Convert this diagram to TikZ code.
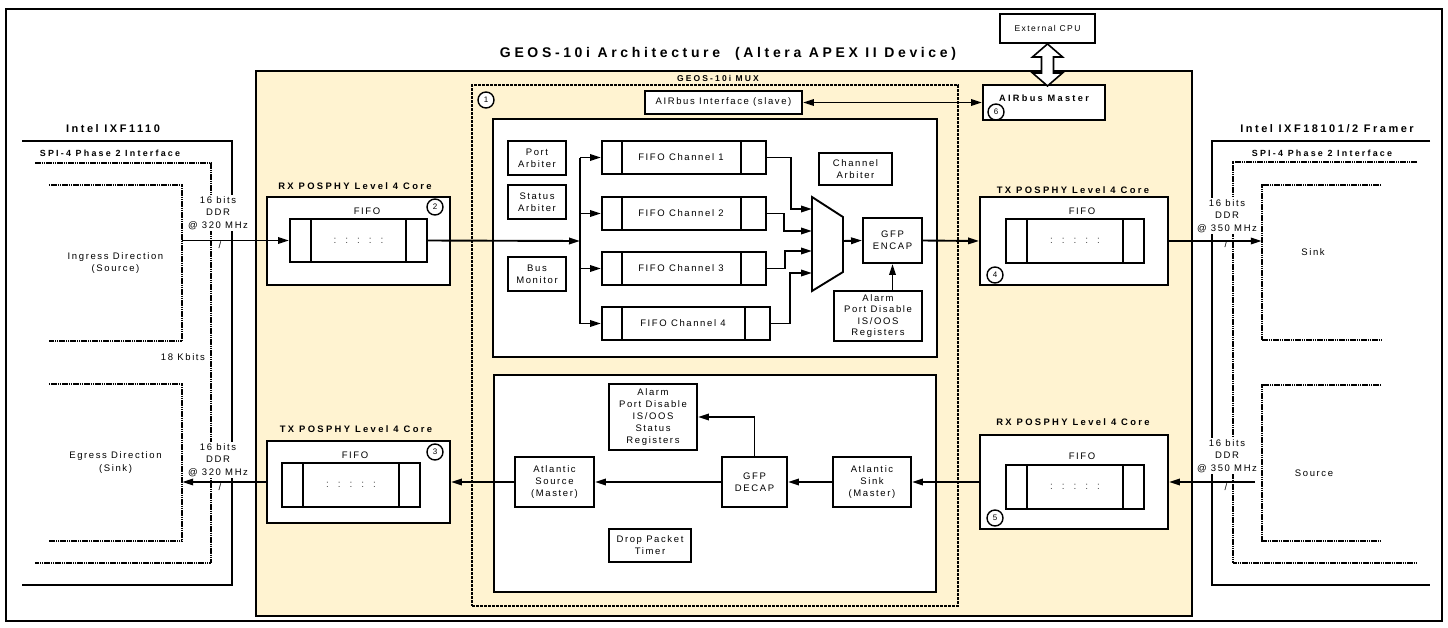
\documentclass[tikz,border=0pt]{standalone}
\usepackage{fontspec}
\setmainfont{Liberation Sans}[LetterSpace=17]
\newfontfamily\hdf{Liberation Sans}[LetterSpace=25]
\newfontfamily\bgf{Liberation Sans}[LetterSpace=23]
\newfontfamily\ttlf{Liberation Sans}[LetterSpace=26]
\usetikzlibrary{arrows.meta,calc}
\definecolor{apex}{HTML}{FFF3D1}
\begin{document}
\begin{tikzpicture}[x=1pt,y=-1pt,
  box/.style={draw, line width=1.9pt, fill=white, inner sep=0pt, align=center, font=\fontsize{9.5}{12}\selectfont},
  fifo/.style={draw, line width=1.9pt, fill=white, inner sep=0pt},
  hd/.style={font=\hdf\bfseries\fontsize{9.4}{11}\selectfont, inner sep=1pt},
  hdsm/.style={font=\hdf\bfseries\fontsize{8.9}{10}\selectfont, inner sep=1pt},
  big/.style={font=\bgf\bfseries\fontsize{11}{13}\selectfont, inner sep=1pt},
  txt/.style={font=\fontsize{9.5}{12.5}\selectfont, align=center, inner sep=1pt},
  lbl/.style={txt, fill=white, inner sep=1.5pt},
  circ/.style={circle, draw, line width=1.4pt, fill=white, inner sep=0pt, minimum size=16pt, font=\fontsize{8}{8}\selectfont},
  arr/.style={line width=1.9pt, -{Triangle[length=11pt,width=6.5pt]}},
  darr/.style={line width=1.9pt, {Triangle[length=11pt,width=6.5pt]}-{Triangle[length=11pt,width=6.5pt]}},
  con/.style={line width=1.9pt},
  solidframe/.style={line width=2pt},
  dotframe/.style={line width=2pt, dash pattern=on 1.6pt off 0.6pt},
  muxline/.style={line width=1.2pt, dash pattern=on 3pt off 1pt},
  fdots/.style={font=\fontsize{10}{10}\selectfont, text=black!70, inner sep=0pt},
  open/.style={minimum width=#1, inner sep=0pt, align=center, font=\fontsize{9.5}{12.5}\selectfont},
]
\useasboundingbox (0,0) rectangle (1448,627);
\fill[white] (0,0) rectangle (1448,627);
% outer frame
\draw[solidframe] (6,9) rectangle (1442,621);

% title
\node[font=\ttlf\bfseries\fontsize{14}{15}\selectfont, inner sep=0pt] (title) at (728,54) {GEOS-10i Architecture\ \ (Altera APEX II Device)};

% ---------- left device frames ----------
\draw[solidframe] (22,141) -- (232,141) -- (232,585) -- (22,585);
\draw[dotframe] (35,163) -- (211,163) -- (211,563) -- (35,563);
\node[open=133pt, minimum height=156pt] (ingress) at (115.5,263) {Ingress Direction\\(Source)};
\draw[dotframe] (ingress.north west) -- (ingress.north east) -- (ingress.south east) -- (ingress.south west);
\node[open=133pt, minimum height=157pt] (egress) at (115.5,462.5) {Egress Direction\\(Sink)};
\draw[dotframe] (egress.north west) -- (egress.north east) -- (egress.south east) -- (egress.south west);
\node[big] (intelL) at (113,129) {Intel IXF1110};
\node[hdsm] (spiL) at (110,153) {SPI-4 Phase 2 Interface};
\node[txt] (kbits) at (183,357) {18 Kbits};

% ---------- right device frames ----------
\draw[solidframe] (1430,141) -- (1212,141) -- (1212,585) -- (1430,585);
\draw[dotframe] (1417,162) -- (1233,162) -- (1233,563) -- (1417,563);
\node[open=119pt, minimum height=155pt] (sink) at (1321.5,262.5) {};
\draw[dotframe] (sink.north east) -- (sink.north west) -- (sink.south west) -- (sink.south east);
\node[txt] (sinkt) at (1313,252) {Sink};
\node[open=119pt, minimum height=156pt] (source) at (1321.5,463) {};
\draw[dotframe] (source.north east) -- (source.north west) -- (source.south west) -- (source.south east);
\node[txt] (sourcet) at (1314,473) {Source};
\node[big] (intelR) at (1327,129) {Intel IXF18101/2 Framer};
\node[hdsm] (spiR) at (1322,153) {SPI-4 Phase 2 Interface};

% ---------- APEX device ----------
\node[draw, fill=apex, line width=2pt, minimum width=936pt, minimum height=545pt, inner sep=0pt] (apex) at (724,343.5) {};
\node[draw, muxline, minimum width=486pt, minimum height=521pt, inner sep=0pt] (mux) at (715,345.5) {};
\node[font=\hdf\bfseries\fontsize{8.5}{9}\selectfont, inner sep=0pt] (muxt) at (718,78) {GEOS-10i MUX};
\node[draw, line width=1.9pt, fill=white, minimum width=444pt, minimum height=238pt, inner sep=0pt] (upper) at (715,238) {};
\node[draw, line width=1.9pt, fill=white, minimum width=442pt, minimum height=217pt, inner sep=0pt] (lower) at (715,483.5) {};

% external CPU / AIRbus
\node[box, minimum width=95pt, minimum height=29pt, font=\fontsize{8.5}{9}\selectfont] (extcpu) at (1047.5,28.5) {External CPU};
\node[box, minimum width=122pt, minimum height=35pt, font=\hdf\bfseries\fontsize{9.2}{11}\selectfont, text depth=9pt] (airmaster) at (1044,102.5) {AIRbus Master};
\node[box, minimum width=157pt, minimum height=23pt] (airslave) at (723.5,102.5) {AIRbus Interface (slave)};

% upper section
\node[box, minimum width=58pt, minimum height=34pt] (portarb) at (537,158) {Port\\Arbiter};
\node[box, minimum width=58pt, minimum height=34pt] (statarb) at (537,202) {Status\\Arbiter};
\node[box, minimum width=58pt, minimum height=34pt] (busmon) at (537,274) {Bus\\Monitor};
\node[fifo, minimum width=164pt, minimum height=33pt] (fifo1) at (684,157.5) {};
\node[fifo, minimum width=164pt, minimum height=33pt] (fifo2) at (684,213.5) {};
\node[fifo, minimum width=164pt, minimum height=33pt] (fifo3) at (684,268.5) {};
\node[fifo, minimum width=168pt, minimum height=33pt] (fifo4) at (686,323.5) {};
\foreach \f/\n in {fifo1/1,fifo2/2,fifo3/3,fifo4/4}{
  \draw[con] ([xshift=21pt]\f.north west) -- ([xshift=21pt]\f.south west);
  \draw[con] ([xshift=-26pt]\f.north east) -- ([xshift=-26pt]\f.south east);
  \node[txt] at ([xshift=-3pt]\f.center) {FIFO Channel \n};
}
\node[box, minimum width=73pt, minimum height=32pt] (chanarb) at (855.5,169) {Channel\\Arbiter};
\node[box, minimum width=59pt, minimum height=45pt] (encap) at (892.5,240.5) {GFP\\ENCAP};
\node[box, minimum width=88pt, minimum height=50pt, font=\fontsize{9.5}{11.6}\selectfont] (alarm1) at (878,316) {Alarm\\Port Disable\\IS/OOS\\Registers};
% multiplexer
\draw[con, fill=white] (812,197) -- (843,217) -- (843,272) -- (812,291) -- cycle;
\coordinate (mx1) at (812,209);
\coordinate (mx2) at (812,231);
\coordinate (mx3) at (812,251);
\coordinate (mx4) at (812,273);
\coordinate (mout) at (843,241);

% lower section
\node[box, minimum width=88pt, minimum height=66pt] (alarm2) at (653,417) {Alarm\\Port Disable\\IS/OOS\\Status\\Registers};
\node[box, minimum width=79pt, minimum height=50pt] (atlsrc) at (554.5,482) {Atlantic\\Source\\(Master)};
\node[box, minimum width=65pt, minimum height=50pt] (decap) at (754.5,482) {GFP\\DECAP};
\node[box, minimum width=78pt, minimum height=50pt] (atlsink) at (872,482) {Atlantic\\Sink\\(Master)};
\node[box, minimum width=82pt, minimum height=33pt] (droptimer) at (650,545.5) {Drop Packet\\Timer};

% POSPHY cores
\node[box, minimum width=183pt, minimum height=88pt] (rxcoreL) at (358.5,241) {};
\node[hd] (rxcoreLt) at (355,186) {RX POSPHY Level 4 Core};
\node[fifo, minimum width=137pt, minimum height=43pt] (rxfifoL) at (358.5,240.5) {};
\node[txt] (rxfifoLt) at (367,211) {FIFO};

\node[box, minimum width=183pt, minimum height=82pt] (txcoreL) at (358.5,482) {};
\node[hd] (txcoreLt) at (356,429) {TX POSPHY Level 4 Core};
\node[fifo, minimum width=138pt, minimum height=44pt] (txfifoL) at (351,485) {};
\node[txt] (txfifoLt) at (355,455) {FIFO};

\node[box, minimum width=188pt, minimum height=88pt] (txcoreR) at (1074,241) {};
\node[hd] (txcoreRt) at (1073,190) {TX POSPHY Level 4 Core};
\node[fifo, minimum width=138pt, minimum height=44pt] (txfifoR) at (1075,241) {};
\node[txt] (txfifoRt) at (1082,211) {FIFO};

\node[box, minimum width=188pt, minimum height=94pt] (rxcoreR) at (1074,482) {};
\node[hd] (rxcoreRt) at (1073,422) {RX POSPHY Level 4 Core};
\node[fifo, minimum width=138pt, minimum height=44pt] (rxfifoR) at (1075,487) {};
\node[txt] (rxfifoRt) at (1082,456) {FIFO};

\foreach \f in {rxfifoL,txfifoL,txfifoR,rxfifoR}{
  \draw[con] ([xshift=22pt]\f.north west) -- ([xshift=22pt]\f.south west);
  \draw[con] ([xshift=-22pt]\f.north east) -- ([xshift=-22pt]\f.south east);
  \node[fdots] at (\f.center) {:\hspace{9pt}:\hspace{9pt}:\hspace{9pt}:\hspace{9pt}:};
}

% callout circles
\node[circ] (c1) at (486,100) {1};
\node[circ] (c2) at (435,207) {2};
\node[circ] (c3) at (435,452) {3};
\node[circ] (c4) at (995,275) {4};
\node[circ] (c5) at (995,518) {5};
\node[circ] (c6) at (996,112) {6};

% ---------- connectors ----------
\coordinate (bus) at (580,241);
\coordinate (srcout) at (1255,482);
\draw[arr] (rxfifoL.west -| ingress.east) -- (rxfifoL.west);
\draw[arr] (rxfifoL.east) -- (bus);
\draw[con] (fifo1.west -| bus) -- (fifo4.west -| bus);
\foreach \f in {fifo1,fifo2,fifo3,fifo4}{
  \draw[arr] (\f.west -| bus) -- (\f.west);
}
\draw[arr] (fifo1.east) -- ++(24,0) |- (mx1);
\draw[arr] (fifo2.east) -- ++(17,0) |- (mx2);
\draw[arr] (fifo3.east) -- ++(18,0) |- (mx3);
\draw[arr] (fifo4.east) -- ++(19,0) |- (mx4);
\draw[arr] (mout) -- (encap.west);
\draw[arr] (encap.south |- alarm1.north) -- (encap.south);
\draw[arr] (encap.east) -- (txcoreR.west);
\draw[arr] (txcoreR.east) -- (txcoreR.east -| sink.west);
\draw[arr] (srcout) -- (rxcoreR.east);
\draw[arr] (rxcoreR.west) -- (atlsink.east);
\draw[arr] (atlsink.west) -- (decap.east);
\draw[arr] (decap.west) -- (atlsrc.east);
\draw[arr] (decap.north) |- (alarm2.east);
\draw[arr] (atlsrc.west) -- (txcoreL.east);
\draw[arr] (txcoreL.west) -- (txcoreL.west -| egress.east);
\draw[darr] (airslave.east) -- (airmaster.west);
% hollow double arrow CPU <-> AIRbus master
\draw[line width=1.6pt, fill=white, shift={(extcpu.south)}]
  (0,0) -- (-15,13) -- (-6,13) -- (-6,29) -- (-15,29) -- (0,42) -- (15,29) -- (6,29) -- (6,13) -- (15,13) -- cycle;

% rate labels
\node[lbl] (rateL1) at (218,213) {16 bits\\DDR\\@ 320 MHz};
\node[txt] (slashL1) at (220,245) {/};
\node[lbl] (rateL2) at (218,460) {16 bits\\DDR\\@ 320 MHz};
\node[txt] (slashL2) at (220,487) {/};
\node[lbl] (rateR1) at (1227,216) {16 bits\\DDR\\@ 350 MHz};
\node[txt] (slashR1) at (1226,244) {/};
\node[lbl] (rateR2) at (1227,456) {16 bits\\DDR\\@ 350 MHz};
\node[txt] (slashR2) at (1226,487) {/};
\end{tikzpicture}
\end{document}
